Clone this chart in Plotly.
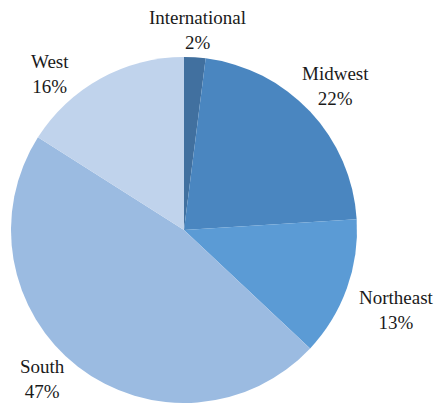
import plotly.graph_objects as go

regions = ["International", "Midwest", "Northeast", "South", "West"]
shares = [2, 22, 13, 47, 16]
colors = ["#41709f", "#4a86c0", "#5b9bd5", "#9bbbe1", "#c0d3ec"]

W, H = 436, 403
cx, cy, r = 184, 230, 173

fig = go.Figure(go.Pie(
    labels=regions,
    values=shares,
    sort=False,
    direction="clockwise",
    rotation=0,
    marker=dict(colors=colors, line=dict(width=0)),
    textinfo="none",
    hoverinfo="label+percent",
    domain=dict(x=[(cx - r) / W, (cx + r) / W],
                y=[max(0, 1 - (cy + r) / H), 1 - (cy - r) / H]),
    showlegend=False,
))

# label block centres (pixels)
label_pos = {
    "International": (197, 30),
    "Midwest": (335, 86),
    "Northeast": (396, 310),
    "South": (42, 379),
    "West": (50, 74),
}
font = dict(family="Liberation Serif", size=19, color="#1a1a1a")
for name, val in zip(regions, shares):
    x, y = label_pos[name]
    fig.add_annotation(
        x=x / W, y=1 - y / H, xref="paper", yref="paper",
        text=f"{name}<br>{val}%", showarrow=False, font=font,
        align="center", xanchor="center", yanchor="middle",
        borderpad=0,
    )

fig.update_layout(
    width=W, height=H,
    margin=dict(l=0, r=0, t=0, b=0),
    paper_bgcolor="white",
    plot_bgcolor="white",
)
fig.write_html(
    "out.html",
    config=dict(displayModeBar=False),
    post_script="document.body.style.margin='0';document.body.style.padding='0';document.body.style.overflow='hidden';",
)
